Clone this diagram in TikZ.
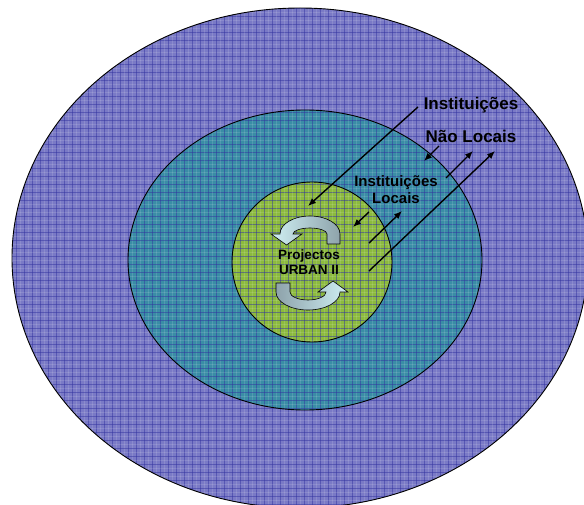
\documentclass[tikz,border=0pt]{standalone}
\usepackage{fontspec}
\setmainfont{Liberation Sans}
\usepackage{xcolor}
\usepackage{tikz}
\usetikzlibrary{arrows.meta}

\definecolor{outerfill}{HTML}{7A7AC6}
\definecolor{middlefill}{HTML}{3A8DA6}
\definecolor{innerfill}{HTML}{8CBA3E}
\definecolor{gridblue}{HTML}{3434A0}
\definecolor{cyclelight}{HTML}{CFEFF3}
\definecolor{cycledark}{HTML}{8EA3AB}

\begin{document}
\begin{tikzpicture}[x=1pt, y=-1pt,
ring/.style={draw=black, line width=0.9pt},
gridline/.style={gridblue, opacity=0.5, line width=0.9pt},
dotline/.style={white, opacity=0.12, line width=0.6pt},
biglabel/.style={font=\bfseries\fontsize{17}{19}\selectfont, align=center, inner sep=0pt},
midlabel/.style={font=\bfseries\fontsize{15}{17}\selectfont, align=center, inner sep=0pt},
corelabel/.style={font=\bfseries\fontsize{13.5}{15.5}\selectfont, align=center, inner sep=0pt},
link/.style={line width=1.4pt, -{Latex[length=8pt, width=6.5pt]}},
cycle/.style={draw=black, line width=0.6pt}
]
\useasboundingbox (0,0) rectangle (584,505);

% the three rings
\begin{scope}
\clip (0,0) rectangle (584,505);
\fill[outerfill] (300,258) ellipse [x radius=288, y radius=250];
\fill[middlefill] (305,260) ellipse [x radius=177, y radius=150];
\fill[innerfill] (312,262) circle [radius=80];
\begin{scope}
\clip (300,258) ellipse [x radius=288, y radius=250];
\foreach \g in {0,8,...,592} {
  \draw[gridline] (\g,0) -- (\g,505);
  \draw[gridline] (0,\g) -- (584,\g);
  \draw[dotline] (\g+4,0) -- (\g+4,505);
  \draw[dotline] (0,\g+4) -- (584,\g+4);
}
\end{scope}
\draw[ring] (300,258) ellipse [x radius=288, y radius=250];
\draw[ring] (305,260) ellipse [x radius=177, y radius=150];
\draw[ring] (312,262) circle [radius=80];
\end{scope}

% cycle arrows
\draw[cycle, left color=cyclelight, right color=cycledark]
  (340,244) -- (340,234) arc [start angle=0, end angle=-180, x radius=30, y radius=18]
  -- (271,234) -- (286.5,245) -- (302,234) -- (293,234)
  arc [start angle=-180, end angle=0, x radius=17, y radius=6]
  -- (327,244) -- cycle;
\draw[cycle, left color=cycledark, right color=cyclelight]
  (276,283) -- (276,292) arc [start angle=180, end angle=0, x radius=32, y radius=18]
  -- (348,292) -- (333,281) -- (318,292) -- (326,292)
  arc [start angle=0, end angle=180, x radius=18, y radius=8]
  -- (290,283) -- cycle;

% labels
\node[corelabel](core) at (309,262) {Projectos\\URBAN II};
\node[biglabel](inst) at (471,105) {Instituições};
\node[biglabel](naolocais) at (471,136) {Não Locais};
\node[midlabel](locais) at (396,190) {Instituições\\Locais};

% arrow ends
\coordinate (far_in_a) at (418,107);
\coordinate (far_in_b) at (308,206);
\coordinate (far_mid_a) at (439,146);
\coordinate (far_mid_b) at (424,161);
\coordinate (loc_in_a) at (369,212);
\coordinate (loc_in_b) at (353,227);
\coordinate (core_out_a) at (369,243);
\coordinate (core_out_b) at (402,211);
\coordinate (loc_out_a) at (446,178);
\coordinate (loc_out_b) at (473,151);
\coordinate (core_far_a) at (369,271);
\coordinate (core_far_b) at (495,151);

\draw[link] (far_in_a) -- (far_in_b);
\draw[link] (far_mid_a) -- (far_mid_b);
\draw[link] (loc_in_a) -- (loc_in_b);
\draw[link] (core_out_a) -- (core_out_b);
\draw[link] (loc_out_a) -- (loc_out_b);
\draw[link] (core_far_a) -- (core_far_b);

\end{tikzpicture}
\end{document}
